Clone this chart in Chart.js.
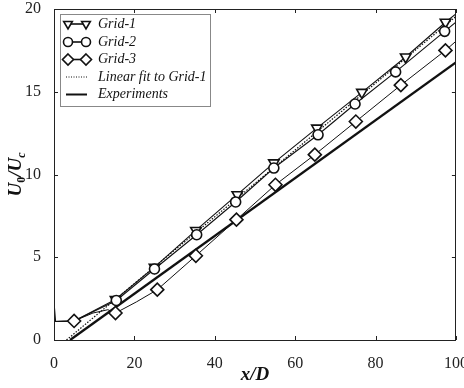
<!DOCTYPE html>
<html>
<head>
<meta charset="utf-8">
<script src="https://cdn.jsdelivr.net/npm/chart.js@4.4.1/dist/chart.umd.min.js"></script>
<style>
html, body { margin: 0; padding: 0; background: #fff; }
#wrap { width: 464px; height: 388px; position: relative; }
</style>
</head>
<body>
<div id="wrap"><canvas id="chart" width="464" height="388"></canvas></div>
<script>
const xTicks = [0, 20, 40, 60, 80, 100];
const yTicks = [0, 5, 10, 15, 20];

// markers
const grid1X = [15.3, 25, 35.3, 45.6, 54.7, 65.4, 76.6, 87.5, 97.4];
const grid1Y = [2.45, 4.4, 6.62, 8.78, 10.7, 12.8, 14.96, 17.1, 19.2];
const grid2X = [15.5, 25, 35.5, 45.2, 54.7, 65.7, 74.9, 85, 97.2];
const grid2Y = [2.39, 4.29, 6.36, 8.34, 10.39, 12.4, 14.26, 16.2, 18.65];
const grid3X = [5, 15.3, 25.7, 35.3, 45.4, 55.1, 64.9, 75.1, 86.3, 97.4];
const grid3Y = [1.15, 1.63, 3.04, 5.09, 7.27, 9.38, 11.2, 13.2, 15.4, 17.5];

// continuous curves
const curve1X = [0, 0.4, 5, 15.3, 25, 35.3, 45.6, 54.7, 65.4, 76.6, 87.5, 97.4, 100];
const curve1Y = [2.3, 1.12, 1.15, 2.45, 4.4, 6.62, 8.78, 10.7, 12.8, 14.96, 17.1, 19.2, 19.7];
const curve2X = [0, 5, 15.5, 25, 35.5, 45.2, 54.7, 65.7, 74.9, 85, 97.2, 100];
const curve2Y = [1.12, 1.15, 2.39, 4.29, 6.36, 8.34, 10.39, 12.4, 14.26, 16.2, 18.65, 19.2];
const curve3X = [0, 5, 9.7, 13.4, 15.3, 20.5, 25.7, 35.3, 45.4, 55.1, 64.9, 75.1, 86.3, 97.4, 100];
const curve3Y = [1.12, 1.15, 1.63, 1.83, 1.63, 2.3, 3.04, 5.09, 7.27, 9.38, 11.2, 13.2, 15.4, 17.5, 18.05];

const fitX = [3.1, 100];
const fitY = [0, 19.55];
const expX = [4, 100];
const expY = [0, 16.77];

const pts = (xs, ys) => xs.map((v, i) => ({ x: v, y: ys[i] }));

const SERIF = '"Liberation Serif", "DejaVu Serif", serif';

const markerSet = (label, xs, ys, style, r, rot) => ({
    label: label,
    data: pts(xs, ys),
    showLine: false,
    pointStyle: style,
    pointRadius: r,
    pointRotation: rot || 0,
    pointBackgroundColor: '#fff',
    pointBorderColor: '#111',
    pointBorderWidth: 1.6
});

const lineSet = (label, xs, ys, width, dash) => ({
    label: label,
    data: pts(xs, ys),
    showLine: true,
    borderColor: '#111',
    borderWidth: width,
    borderDash: dash || [],
    pointRadius: 0,
    tension: 0
});

// legend symbols
const drawTri = (ctx, x, y, r) => {
    ctx.beginPath();
    ctx.moveTo(x - r * 0.866, y - r * 0.5);
    ctx.lineTo(x + r * 0.866, y - r * 0.5);
    ctx.lineTo(x, y + r);
    ctx.closePath();
    ctx.fill(); ctx.stroke();
};
const drawCirc = (ctx, x, y, r) => {
    ctx.beginPath();
    ctx.arc(x, y, r, 0, Math.PI * 2);
    ctx.fill(); ctx.stroke();
};
const drawDia = (ctx, x, y, r) => {
    ctx.beginPath();
    ctx.moveTo(x, y - r); ctx.lineTo(x + r, y); ctx.lineTo(x, y + r); ctx.lineTo(x - r, y);
    ctx.closePath();
    ctx.fill(); ctx.stroke();
};

const decorations = {
    id: 'decorations',
    afterDatasetsDraw(chart) {
        const { ctx, chartArea: a, scales: { x, y } } = chart;
        ctx.save();
        ctx.strokeStyle = '#222';
        ctx.lineWidth = 1;
        ctx.strokeRect(Math.round(a.left) + 0.5, Math.round(a.top) + 0.5,
            Math.round(a.width) - 1, Math.round(a.height));
        ctx.beginPath();
        xTicks.forEach(t => {
            const px = Math.round(x.getPixelForValue(t)) + 0.5;
            ctx.moveTo(px, a.bottom); ctx.lineTo(px, a.bottom - 4);
            ctx.moveTo(px, a.top); ctx.lineTo(px, a.top + 4);
        });
        yTicks.forEach(t => {
            const py = Math.round(y.getPixelForValue(t)) + 0.5;
            ctx.moveTo(a.left, py); ctx.lineTo(a.left + 4, py);
            ctx.moveTo(a.right, py); ctx.lineTo(a.right - 4, py);
        });
        ctx.stroke();

        // legend box
        const lx = 60, ly = 14, lw = 150, lh = 92;
        ctx.fillStyle = '#fff';
        ctx.fillRect(lx, ly, lw, lh);
        ctx.strokeStyle = '#888';
        ctx.strokeRect(lx + 0.5, ly + 0.5, lw, lh);

        const rows = [24, 42, 59.5, 77, 94.5];
        const labels = ['Grid-1', 'Grid-2', 'Grid-3', 'Linear fit to Grid-1', 'Experiments'];
        ctx.strokeStyle = '#111';
        ctx.fillStyle = '#fff';
        ctx.lineWidth = 1.6;
        const sym = [drawTri, drawCirc, drawDia];
        const rad = [5, 4.5, 5.5];
        for (let i = 0; i < 3; i++) {
            ctx.beginPath();
            ctx.moveTo(68, rows[i]); ctx.lineTo(86, rows[i]);
            ctx.stroke();
            sym[i](ctx, 68, rows[i], rad[i]);
            sym[i](ctx, 86, rows[i], rad[i]);
        }
        ctx.lineWidth = 1;
        ctx.setLineDash([1, 1.5]);
        ctx.beginPath(); ctx.moveTo(66, rows[3]); ctx.lineTo(87, rows[3]); ctx.stroke();
        ctx.setLineDash([]);
        ctx.lineWidth = 2;
        ctx.beginPath(); ctx.moveTo(66, rows[4]); ctx.lineTo(87, rows[4]); ctx.stroke();

        ctx.fillStyle = '#111';
        ctx.font = 'italic 14px ' + SERIF;
        ctx.textBaseline = 'middle';
        ctx.textAlign = 'left';
        labels.forEach((t, i) => ctx.fillText(t, 98, rows[i]));
        ctx.restore();
    },
    afterDraw(chart) {
        const { ctx, chartArea: a } = chart;
        ctx.save();
        ctx.fillStyle = '#111';
        ctx.textBaseline = 'alphabetic';
        // x title
        ctx.font = 'bold italic 19px ' + SERIF;
        ctx.textAlign = 'center';
        ctx.fillText('x/D', (a.left + a.right) / 2, 380);
        // y title with subscripts
        ctx.translate(21, (a.top + a.bottom) / 2);
        ctx.rotate(-Math.PI / 2);
        const big = 'bold italic 19px ' + SERIF;
        const sub = 'bold 12px ' + SERIF;
        const subI = 'bold italic 12px ' + SERIF;
        const parts = [['U', big, 0], ['0', sub, 4], ['/U', big, 0], ['c', subI, 4]];
        let w = 0;
        parts.forEach(p => { ctx.font = p[1]; w += ctx.measureText(p[0]).width; });
        let cx = -w / 2;
        ctx.textAlign = 'left';
        parts.forEach(p => {
            ctx.font = p[1];
            ctx.fillText(p[0], cx, p[2]);
            cx += ctx.measureText(p[0]).width;
        });
        ctx.restore();
    }
};

new Chart('chart', {
    type: 'scatter',
    data: {
        datasets: [
            markerSet('Grid-2', grid2X, grid2Y, 'circle', 5),
            markerSet('Grid-1', grid1X, grid1Y, 'triangle', 6, 180),
            markerSet('Grid-3', grid3X, grid3Y, 'rectRot', 6.5),
            lineSet('Grid-1 curve', curve1X, curve1Y, 1.1),
            lineSet('Grid-2 curve', curve2X, curve2Y, 1.1),
            lineSet('Grid-3 curve', curve3X, curve3Y, 1),
            lineSet('Linear fit to Grid-1', fitX, fitY, 1.2, [1.5, 1.5]),
            lineSet('Experiments', expX, expY, 2.4)
        ]
    },
    options: {
        responsive: false,
        animation: false,
        layout: { padding: { left: 0, right: 6, top: 9, bottom: 0 } },
        plugins: { legend: { display: false }, tooltip: { enabled: false } },
        scales: {
            x: {
                type: 'linear', min: 0, max: 100,
                afterFit(s) { s.height = 48; s.paddingLeft = 0; s.paddingRight = 0; },
                afterBuildTicks(s) { s.ticks = xTicks.map(v => ({ value: v })); },
                grid: { display: false },
                border: { display: false },
                ticks: { padding: 6, color: '#222', font: { family: SERIF, size: 16 }, maxRotation: 0 }
            },
            y: {
                type: 'linear', min: 0, max: 20,
                afterFit(s) { s.width = 54; s.paddingTop = 0; s.paddingBottom = 0; },
                afterBuildTicks(s) { s.ticks = yTicks.map(v => ({ value: v })); },
                grid: { display: false },
                border: { display: false },
                ticks: { padding: 5, color: '#222', font: { family: SERIF, size: 16 } }
            }
        }
    },
    plugins: [decorations]
});
</script>
</body>
</html>
